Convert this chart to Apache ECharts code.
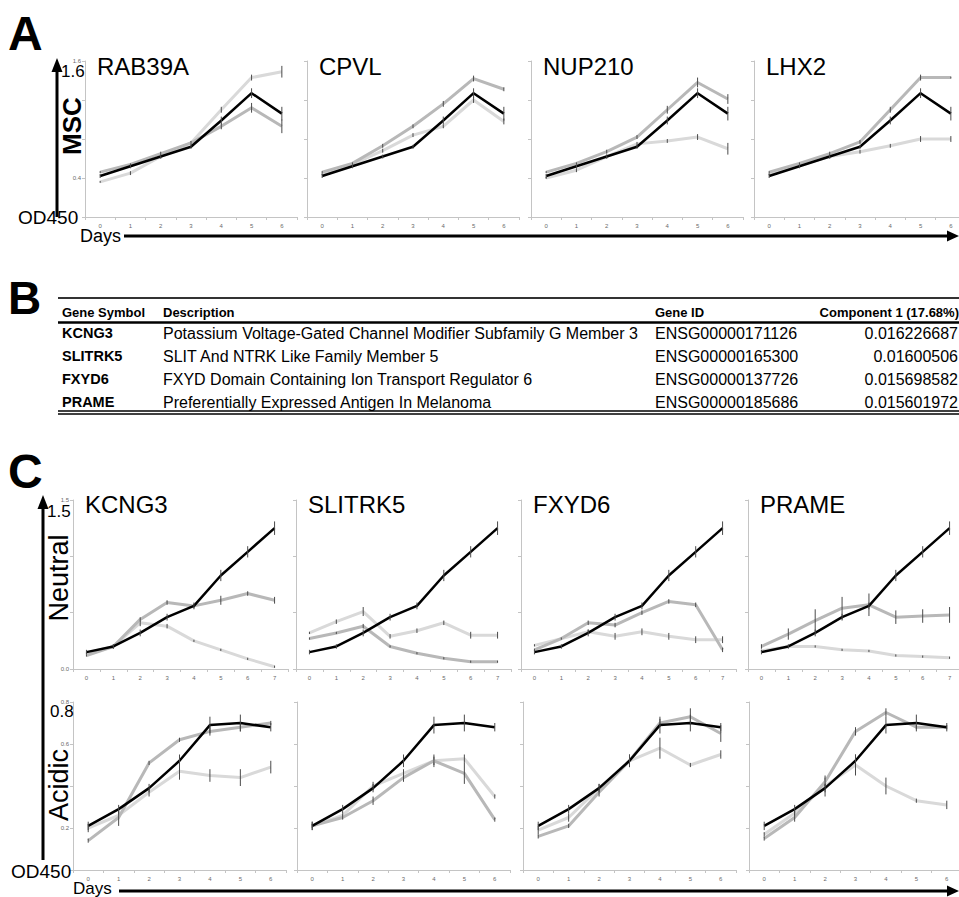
<!DOCTYPE html>
<html><head><meta charset="utf-8">
<script src="https://cdn.jsdelivr.net/npm/echarts@6/dist/echarts.min.js"></script>
<style>html,body{margin:0;padding:0;background:#fff}#c{width:959px;height:897px}</style>
</head><body><div id="c"></div>
<script>
// ================= DATA =================
const daysMSC = ['0','1','2','3','4','5','6'];
const daysNeutral = ['0','1','2','3','4','5','6','7'];
const daysAcidic = ['0','1','2','3','4','5','6'];
const genesA = ['RAB39A','CPVL','NUP210','LHX2'];
const genesC = ['KCNG3','SLITRK5','FXYD6','PRAME'];

// y tick labels that are visible (others hidden under the big axis captions)
const yLabelsMSC = ['0.4', '1.6'];
const yLabelsNeutral = ['0.0', '1.5'];
const yLabelsAcidic = ['0.2', '0.6', '0.8'];

// Panel A (MSC) – control (black)
const ctlMSC    = [0.42, 0.52, 0.62, 0.72, 0.99, 1.27, 1.06];
const ctlMSCErr = [0.02, 0.02, 0.02, 0.02, 0.04, 0.05, 0.07];
// RAB39A
const rab39aMid      = [0.46, 0.54, 0.65, 0.76, 0.93, 1.12, 0.93];
const rab39aMidErr   = [0.01, 0.01, 0.02, 0.02, 0.03, 0.05, 0.07];
const rab39aLight    = [0.36, 0.45, 0.62, 0.76, 1.10, 1.43, 1.49];
const rab39aLightErr = [0.01, 0.02, 0.02, 0.02, 0.03, 0.03, 0.06];
// CPVL
const cpvlMid      = [0.46, 0.55, 0.73, 0.93, 1.16, 1.42, 1.31];
const cpvlMidErr   = [0.01, 0.01, 0.02, 0.02, 0.03, 0.03, 0.02];
const cpvlLight    = [0.44, 0.54, 0.68, 0.84, 0.93, 1.20, 0.98];
const cpvlLightErr = [0.01, 0.01, 0.02, 0.02, 0.02, 0.03, 0.03];
// NUP210
const nup210Mid      = [0.46, 0.55, 0.67, 0.82, 1.10, 1.38, 1.21];
const nup210MidErr   = [0.01, 0.01, 0.02, 0.02, 0.04, 0.05, 0.05];
const nup210Light    = [0.40, 0.48, 0.62, 0.75, 0.78, 0.82, 0.70];
const nup210LightErr = [0.01, 0.02, 0.02, 0.02, 0.02, 0.03, 0.06];
// LHX2
const lhx2Mid      = [0.46, 0.55, 0.65, 0.77, 1.10, 1.43, 1.43];
const lhx2MidErr   = [0.01, 0.01, 0.02, 0.02, 0.03, 0.03, 0.01];
const lhx2Light    = [0.44, 0.53, 0.62, 0.67, 0.73, 0.80, 0.80];
const lhx2LightErr = [0.01, 0.02, 0.02, 0.02, 0.02, 0.03, 0.03];

// Panel C Neutral – control (black)
const ctlNeutral    = [0.15, 0.20, 0.32, 0.46, 0.56, 0.83, 1.04, 1.25];
const ctlNeutralErr = [0.02, 0.02, 0.03, 0.03, 0.03, 0.05, 0.05, 0.06];
const kcng3NeuMid      = [0.12, 0.20, 0.44, 0.59, 0.56, 0.61, 0.67, 0.61];
const kcng3NeuMidErr   = [0.01, 0.02, 0.02, 0.02, 0.02, 0.04, 0.02, 0.03];
const kcng3NeuLight    = [0.14, 0.20, 0.41, 0.38, 0.25, 0.17, 0.09, 0.02];
const kcng3NeuLightErr = [0.01, 0.01, 0.03, 0.02, 0.01, 0.01, 0.01, 0.01];
const slitrk5NeuMid      = [0.27, 0.32, 0.38, 0.20, 0.14, 0.095, 0.065, 0.065];
const slitrk5NeuMidErr   = [0.01, 0.01, 0.02, 0.01, 0.01, 0.01, 0.01, 0.01];
const slitrk5NeuLight    = [0.32, 0.42, 0.51, 0.29, 0.34, 0.41, 0.30, 0.30];
const slitrk5NeuLightErr = [0.01, 0.02, 0.04, 0.02, 0.02, 0.02, 0.03, 0.03];
const fxyd6NeuMid      = [0.17, 0.27, 0.41, 0.39, 0.50, 0.60, 0.57, 0.17];
const fxyd6NeuMidErr   = [0.01, 0.01, 0.02, 0.02, 0.02, 0.02, 0.02, 0.02];
const fxyd6NeuLight    = [0.21, 0.27, 0.33, 0.29, 0.33, 0.29, 0.26, 0.26];
const fxyd6NeuLightErr = [0.01, 0.01, 0.02, 0.03, 0.03, 0.03, 0.03, 0.03];
const prameNeuMid      = [0.20, 0.31, 0.43, 0.54, 0.57, 0.46, 0.47, 0.48];
const prameNeuMidErr   = [0.02, 0.05, 0.10, 0.10, 0.10, 0.06, 0.06, 0.07];
const prameNeuLight    = [0.16, 0.20, 0.20, 0.17, 0.16, 0.12, 0.11, 0.10];
const prameNeuLightErr = [0.01, 0.01, 0.01, 0.01, 0.01, 0.01, 0.01, 0.01];

// Panel C Acidic – control (black)
const ctlAcidic    = [0.21, 0.29, 0.39, 0.52, 0.69, 0.70, 0.68];
const ctlAcidicErr = [0.02, 0.02, 0.02, 0.03, 0.04, 0.04, 0.02];
const kcng3AcMid      = [0.14, 0.25, 0.51, 0.62, 0.66, 0.68, 0.70];
const kcng3AcMidErr   = [0.01, 0.04, 0.01, 0.01, 0.02, 0.02, 0.01];
const kcng3AcLight    = [0.20, 0.26, 0.37, 0.47, 0.45, 0.44, 0.49];
const kcng3AcLightErr = [0.02, 0.02, 0.02, 0.04, 0.03, 0.04, 0.03];
const slitrk5AcMid      = [0.21, 0.25, 0.33, 0.44, 0.52, 0.46, 0.24];
const slitrk5AcMidErr   = [0.02, 0.01, 0.02, 0.02, 0.02, 0.05, 0.01];
const slitrk5AcLight    = [0.21, 0.26, 0.40, 0.46, 0.52, 0.53, 0.35];
const slitrk5AcLightErr = [0.01, 0.01, 0.02, 0.02, 0.03, 0.02, 0.01];
const fxyd6AcMid      = [0.16, 0.21, 0.37, 0.52, 0.70, 0.73, 0.65];
const fxyd6AcMidErr   = [0.01, 0.01, 0.02, 0.02, 0.02, 0.04, 0.04];
const fxyd6AcLight    = [0.19, 0.25, 0.39, 0.52, 0.58, 0.50, 0.55];
const fxyd6AcLightErr = [0.02, 0.02, 0.02, 0.03, 0.05, 0.01, 0.02];
const prameAcMid      = [0.15, 0.25, 0.42, 0.66, 0.75, 0.68, 0.68];
const prameAcMidErr   = [0.01, 0.02, 0.02, 0.02, 0.02, 0.01, 0.01];
const prameAcLight    = [0.17, 0.27, 0.40, 0.50, 0.40, 0.33, 0.31];
const prameAcLightErr = [0.01, 0.02, 0.05, 0.05, 0.04, 0.01, 0.02];

// Panel B table
const tableHeader = ['Gene Symbol', 'Description', 'Gene ID', 'Component 1 (17.68%)'];
const tableSymbols = ['KCNG3', 'SLITRK5', 'FXYD6', 'PRAME'];
const tableDescriptions = [
  'Potassium Voltage-Gated Channel Modifier Subfamily G Member 3',
  'SLIT And NTRK Like Family Member 5',
  'FXYD Domain Containing Ion Transport Regulator 6',
  'Preferentially Expressed Antigen In Melanoma'
];
const tableGeneIds = ['ENSG00000171126', 'ENSG00000165300', 'ENSG00000137726', 'ENSG00000185686'];
const tableComponent = ['0.016226687', '0.01600506', '0.015698582', '0.015601972'];

// ================= LAYOUT / STYLE =================
const FONT = "'Liberation Sans', Arial, Helvetica, sans-serif";
const COL_CTL = '#000000', COL_MID = '#b8b8b8', COL_LIGHT = '#d9d9d9';

const rows = [
  { days: daysMSC, max: 1.6, interval: 0.4, top: 61, height: 156, lefts: [85, 307, 531, 754], width: 212,
    yLabels: yLabelsMSC,
    ctl: ctlMSC, ctlErr: ctlMSCErr, titles: genesA,
    mids: [rab39aMid, cpvlMid, nup210Mid, lhx2Mid], midErrs: [rab39aMidErr, cpvlMidErr, nup210MidErr, lhx2MidErr],
    lights: [rab39aLight, cpvlLight, nup210Light, lhx2Light], lightErrs: [rab39aLightErr, cpvlLightErr, nup210LightErr, lhx2LightErr],
    titleY: 66 },
  { days: daysNeutral, max: 1.5, interval: 0.5, top: 500, height: 169, lefts: [73, 296, 521, 748], width: 215,
    yLabels: yLabelsNeutral,
    ctl: ctlNeutral, ctlErr: ctlNeutralErr, titles: genesC,
    mids: [kcng3NeuMid, slitrk5NeuMid, fxyd6NeuMid, prameNeuMid], midErrs: [kcng3NeuMidErr, slitrk5NeuMidErr, fxyd6NeuMidErr, prameNeuMidErr],
    lights: [kcng3NeuLight, slitrk5NeuLight, fxyd6NeuLight, prameNeuLight], lightErrs: [kcng3NeuLightErr, slitrk5NeuLightErr, fxyd6NeuLightErr, prameNeuLightErr],
    titleY: 504 },
  { days: daysAcidic, max: 0.8, interval: 0.2, top: 702, height: 168, lefts: [73, 297, 523, 749], width: 213,
    yLabels: yLabelsAcidic,
    ctl: ctlAcidic, ctlErr: ctlAcidicErr, titles: null,
    mids: [kcng3AcMid, slitrk5AcMid, fxyd6AcMid, prameAcMid], midErrs: [kcng3AcMidErr, slitrk5AcMidErr, fxyd6AcMidErr, prameAcMidErr],
    lights: [kcng3AcLight, slitrk5AcLight, fxyd6AcLight, prameAcLight], lightErrs: [kcng3AcLightErr, slitrk5AcLightErr, fxyd6AcLightErr, prameAcLightErr] }
];

const grids = [], xAxes = [], yAxes = [], series = [], graphics = [];

function errRender(params, api) {
  const i = api.value(0);
  const p1 = api.coord([i, api.value(1)]);
  const p2 = api.coord([i, api.value(2)]);
  return { type: 'line', shape: { x1: p1[0], y1: p1[1], x2: p2[0], y2: p2[1] },
           style: { stroke: '#4a4a4a', lineWidth: 1 } };
}

function addLine(idx, vals, errs, color, width, z, days) {
  series.push({ type: 'line', xAxisIndex: idx, yAxisIndex: idx, data: vals, symbol: 'none',
    lineStyle: { color: color, width: width }, z: z, silent: true, clip: false });
  series.push({ type: 'custom', xAxisIndex: idx, yAxisIndex: idx, renderItem: errRender, z: z + 1, silent: true, clip: false,
    encode: { x: 0, y: [1, 2] },
    data: days.map((d, i) => [i, vals[i] - errs[i], vals[i] + errs[i]]) });
}

let gi = 0;
rows.forEach((r) => {
  for (let k = 0; k < 4; k++) {
    grids.push({ left: r.lefts[k], top: r.top, width: r.width, height: r.height, containLabel: false, outerBoundsMode: 'none' });
    xAxes.push({ type: 'category', gridIndex: gi, data: r.days, boundaryGap: true,
      axisLine: { show: true, lineStyle: { color: '#c4c4c4', width: 1 } },
      axisTick: { show: true, length: 3, lineStyle: { color: '#c4c4c4' } },
      axisLabel: { show: true, fontSize: 6, color: '#6a6a6a', margin: 6, fontFamily: FONT },
      splitLine: { show: false } });
    const shown = r.yLabels;
    yAxes.push({ type: 'value', gridIndex: gi, min: 0, max: r.max, interval: r.interval,
      axisLine: { show: true, lineStyle: { color: '#c4c4c4', width: 1 } },
      axisTick: { show: true, length: 3, lineStyle: { color: '#c4c4c4' } },
      axisLabel: { show: k === 0, fontSize: 6, color: '#6a6a6a', margin: 4, fontFamily: FONT,
                   formatter: (v) => { const s = v.toFixed(1); return shown.indexOf(s) >= 0 ? s : ''; } },
      splitLine: { show: false } });
    addLine(gi, r.lights[k], r.lightErrs[k], COL_LIGHT, 3, 2, r.days);
    addLine(gi, r.mids[k], r.midErrs[k], COL_MID, 3, 4, r.days);
    addLine(gi, r.ctl, r.ctlErr, COL_CTL, 2.5, 6, r.days);
    if (r.titles) {
      graphics.push({ type: 'text', x: r.lefts[k] + 12, y: r.titleY, z: 50,
        style: { text: r.titles[k], font: '24px ' + FONT, fill: '#000',
                 textAlign: 'left', textVerticalAlign: 'middle', align: 'left', verticalAlign: 'middle' } });
    }
    gi++;
  }
});

function txt(text, x, y, size, opts) {
  opts = opts || {};
  const el = { type: 'text', x: x, y: y, z: 60, rotation: opts.rot || 0,
    style: { text: text, font: (opts.bold ? 'bold ' : '') + size + 'px ' + FONT, fill: '#000',
             textAlign: opts.align || 'left', align: opts.align || 'left',
             textVerticalAlign: 'middle', verticalAlign: 'middle' } };
  graphics.push(el);
}
function line(x1, y1, x2, y2, w, c) {
  graphics.push({ type: 'line', z: 55, shape: { x1: x1, y1: y1, x2: x2, y2: y2 }, style: { stroke: c || '#000', lineWidth: w } });
}
function poly(points) {
  graphics.push({ type: 'polygon', z: 55, shape: { points: points }, style: { fill: '#000' } });
}

// Panel letters
txt('A', 8, 33, 48, { bold: true });
txt('B', 8, 298, 46, { bold: true });
txt('C', 8, 471, 48, { bold: true });

// Panel A axis decorations
line(57, 217, 57, 68, 3);
poly([[51.5, 72], [57, 58], [62.5, 72]]);
txt('1.6', 61, 71, 17);
txt('MSC', 72, 126, 26, { rot: Math.PI / 2, align: 'center', bold: true });
txt('OD450', 18, 217, 19);
txt('Days', 80, 236, 18);
line(124, 236, 950, 236, 3);
poly([[947, 230.5], [959, 236], [947, 241.5]]);

// Panel C axis decorations
line(43, 860, 43, 505, 3);
poly([[37.5, 509], [43, 495], [48.5, 509]]);
txt('1.5', 47, 511, 17);
txt('Neutral', 59, 578, 27, { rot: Math.PI / 2, align: 'center' });
txt('0.8', 50, 711, 17);
txt('Acidic', 59, 785, 27, { rot: Math.PI / 2, align: 'center' });
txt('OD450', 11, 871, 19);
txt('Days', 73, 888, 17);
line(119, 891, 950, 891, 3);
poly([[947, 885.5], [959, 891], [947, 896.5]]);

// Panel B table
const colX = [62, 163, 655];
line(58, 298, 959, 298, 2, '#333');
line(58, 322.5, 959, 322.5, 2.5, '#000');
line(58, 411, 959, 411, 1.5, '#000');
line(58, 414, 959, 414, 1.5, '#000');
txt(tableHeader[0], colX[0], 312, 13, { bold: true });
txt(tableHeader[1], colX[1], 312, 13, { bold: true });
txt(tableHeader[2], colX[2], 312, 13, { bold: true });
txt(tableHeader[3], 959, 312, 13, { bold: true, align: 'right' });
const rowY = [333, 356, 379, 402];
tableSymbols.forEach((s, i) => {
  txt(s, colX[0], rowY[i], 14.5, { bold: true });
  txt(tableDescriptions[i], colX[1], rowY[i], 16);
  txt(tableGeneIds[i], colX[2], rowY[i], 16);
  txt(tableComponent[i], 958, rowY[i], 16, { align: 'right' });
});

const chart = echarts.init(document.getElementById('c'), null, { renderer: 'svg', width: 959, height: 897 });
chart.setOption({
  animation: false,
  backgroundColor: '#ffffff',
  grid: grids, xAxis: xAxes, yAxis: yAxes, series: series,
  graphic: { elements: graphics }
});
</script>
</body></html>
